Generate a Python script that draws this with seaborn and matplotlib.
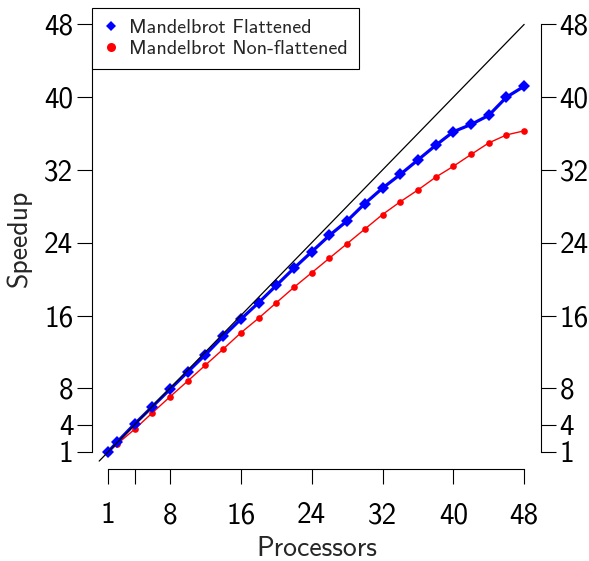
import matplotlib
matplotlib.use("Agg")
import matplotlib.pyplot as plt
import seaborn as sns
import pandas as pd
from matplotlib.lines import Line2D

processors = [1, 2, 4, 6, 8, 10, 12, 14, 16, 18, 20, 22, 24, 26, 28, 30,
              32, 34, 36, 38, 40, 42, 44, 46, 48]
flattened = [1.0, 2.06, 4.07, 5.98, 7.9, 9.8, 11.7, 13.7, 15.6, 17.4, 19.3,
             21.2, 23.0, 24.8, 26.4, 28.3, 30.0, 31.5, 33.1, 34.7, 36.2,
             37.0, 38.0, 40.0, 41.2]
non_flattened = [1.0, 1.85, 3.5, 5.3, 7.07, 8.8, 10.55, 12.3, 14.1, 15.7,
                 17.4, 19.1, 20.7, 22.3, 23.9, 25.5, 27.1, 28.5, 29.8, 31.2,
                 32.4, 33.7, 34.97, 35.85, 36.3]
ideal = [0, 48]
tick_vals = [1, 4, 8, 16, 24, 32, 40, 48]
xtick_labels = ["1", "", "8", "16", "24", "32", "40", "48"]
ytick_labels = ["1", "4", "8", "16", "24", "32", "40", "48"]
series_names = ["Mandelbrot Flattened", "Mandelbrot Non-flattened"]

sns.set_theme(style="ticks")
plt.rcParams["font.family"] = ["cmss10", "DejaVu Sans"]
plt.rcParams["axes.unicode_minus"] = False

df_f = pd.DataFrame({"Processors": processors, "Speedup": flattened})
df_n = pd.DataFrame({"Processors": processors, "Speedup": non_flattened})

fig = plt.figure(figsize=(5.89, 5.61), dpi=100)
ax = fig.add_axes([92 / 589, 92 / 561, (541 - 92) / 589, (469 - 8) / 561])

sns.lineplot(data=df_n, x="Processors", y="Speedup", ax=ax, color="#ff0000",
             lw=1.0, marker="o", markersize=4.8, markeredgewidth=0, zorder=3)
sns.lineplot(data=df_f, x="Processors", y="Speedup", ax=ax, color="#0000ff",
             lw=2.3, marker="D", markersize=6.5, markeredgewidth=0, zorder=4)
ax.plot(ideal, ideal, color="black", lw=0.9, zorder=5)

ax.set_xlim(-0.81, 49.9)
ax.set_ylim(-0.87, 49.8)
for s in ["left", "right", "bottom"]:
    ax.spines[s].set_visible(True)
    ax.spines[s].set_bounds(1, 48)
    ax.spines[s].set_linewidth(0.8)
    ax.spines[s].set_color("black")
ax.spines["top"].set_visible(False)

ax.set_xticks(tick_vals)
ax.set_xticklabels(xtick_labels)
ax.set_yticks(tick_vals)
ax.set_yticklabels(ytick_labels)
ax.tick_params(axis="both", direction="out", length=11, width=0.8,
               colors="black", labelsize=21)
ax.tick_params(axis="x", pad=13)
ax.tick_params(axis="y", left=True, right=True, labelleft=True,
               labelright=True, pad=2.5)

ax.set_xlabel("Processors", fontsize=20, labelpad=5)
ax.set_ylabel("Speedup", fontsize=20, labelpad=9)

handles = [Line2D([], [], ls="none", marker="D", color="#0000ff", markersize=5,
                  markeredgewidth=0),
           Line2D([], [], ls="none", marker="o", color="#ff0000", markersize=6.5,
                  markeredgewidth=0)]
leg = ax.legend(handles, series_names, loc="upper left", bbox_to_anchor=(0, 1),
                borderaxespad=0, fancybox=False, framealpha=1, edgecolor="black",
                fontsize=14.5, handlelength=0.8, handletextpad=0.5,
                borderpad=0.55, labelspacing=0.15)
leg.get_frame().set_linewidth(0.8)

fig.savefig("out.png", dpi=100)
